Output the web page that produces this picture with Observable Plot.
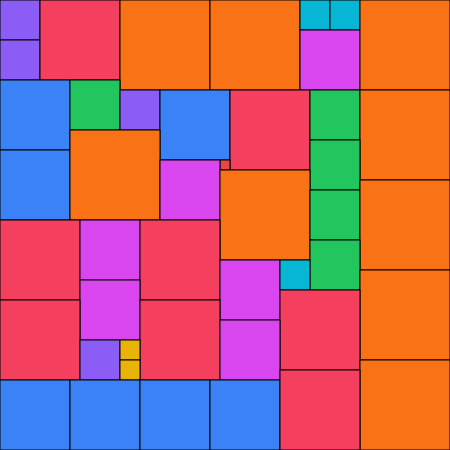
<!DOCTYPE html>
<html>
<head>
<meta charset="utf-8">
<script src="https://cdn.jsdelivr.net/npm/d3@7"></script>
<script src="https://cdn.jsdelivr.net/npm/@observablehq/plot@0.6"></script>
<style>
  html, body { margin: 0; padding: 0; background: #fff; }
  #chart svg { display: block; }
</style>
</head>
<body>
<div id="chart"></div>
<script>
// Square packing: left edge, top edge, side length (in chart units)
const xs    = [0, 0, 40, 120, 210, 300, 330, 300, 360,
               0, 70, 120, 160, 230, 310, 360,
               0, 70, 310, 220, 160, 220, 310, 360,
               0, 80, 140, 310, 220, 280, 360,
               80, 0, 140, 280, 220, 80, 120, 120, 360,
               0, 70, 140, 210, 280];
const ys    = [0, 40, 0, 0, 0, 0, 0, 30, 0,
               80, 80, 90, 90, 90, 90, 90,
               150, 130, 140, 160, 160, 170, 190, 180,
               220, 220, 220, 240, 260, 260, 270,
               280, 300, 300, 290, 320, 340, 340, 360, 360,
               380, 380, 380, 380, 370];
const sizes = [40, 40, 80, 90, 90, 30, 30, 60, 90,
               70, 50, 40, 70, 80, 50, 90,
               70, 90, 50, 10, 60, 90, 50, 90,
               80, 60, 80, 50, 60, 30, 90,
               60, 80, 80, 80, 60, 40, 20, 20, 90,
               70, 70, 70, 70, 80];

const sizeDomain = [10, 20, 30, 40, 50, 60, 70, 80, 90];
const colorRange = ["#ef4444", "#eab308", "#06b6d4", "#8b5cf6", "#22c55e",
                    "#d946ef", "#3b82f6", "#f43f5e", "#f97316"];

const squares = xs.map((x, i) => ({x, y: ys[i], s: sizes[i]}));

const chart = Plot.plot({
  width: 450,
  height: 450,
  margin: 0,
  x: {domain: [0, 450], axis: null},
  y: {domain: [0, 450], axis: null, reverse: true},
  color: {type: "ordinal", domain: sizeDomain, range: colorRange},
  marks: [
    Plot.rect(squares, {
      x1: "x",
      x2: d => d.x + d.s,
      y1: "y",
      y2: d => d.y + d.s,
      fill: "s",
      stroke: "#000",
      strokeWidth: 1
    })
  ]
});
document.getElementById("chart").appendChild(chart);
</script>
</body>
</html>
